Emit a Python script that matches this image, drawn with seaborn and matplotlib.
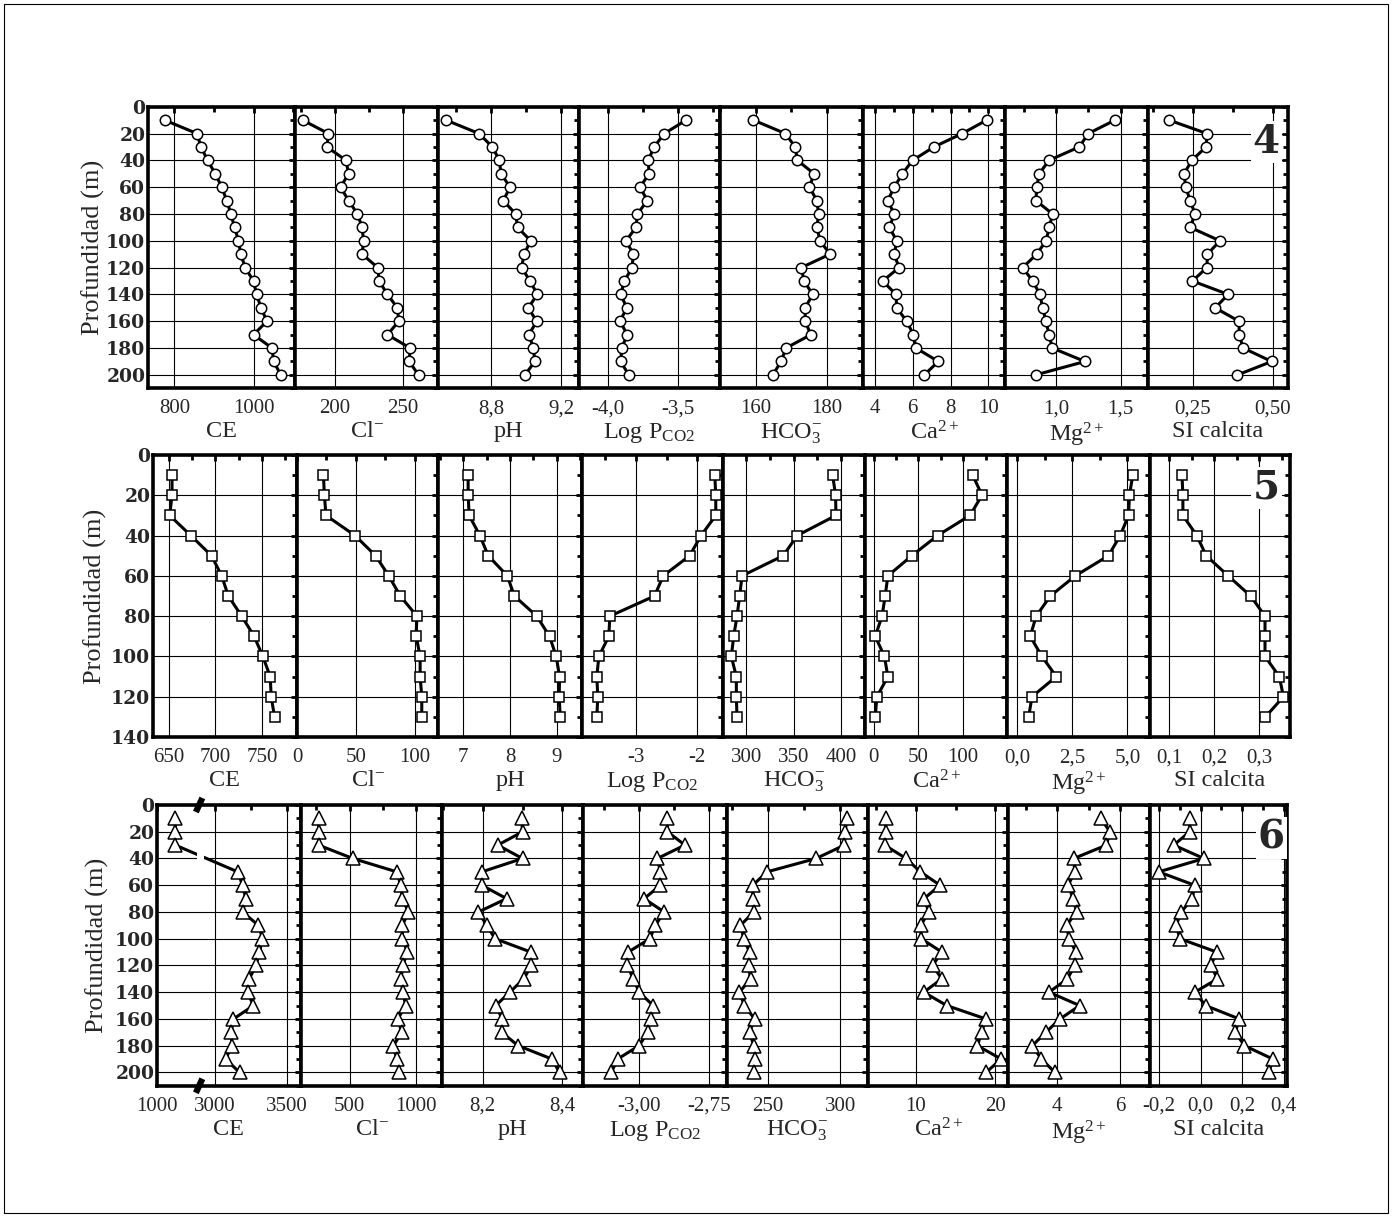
import numpy as np
import seaborn as sns
import matplotlib.pyplot as plt
from matplotlib.ticker import MultipleLocator
from matplotlib.patches import Rectangle

# ---- data: sampling depths (m) ----
depth_4 = [10, 20, 30, 40, 50, 60, 70, 80, 90, 100, 110, 120, 130, 140, 150, 160, 170, 180, 190, 200]
depth_5 = [10, 20, 30, 40, 50, 60, 70, 80, 90, 100, 110, 120, 130]
depth_6 = [10, 20, 30, 40, 50, 60, 70, 80, 90, 100, 110, 120, 130, 140, 150, 160, 170, 180, 190, 200]
depth_6_ce = [10, 20, 30, 50, 60, 70, 80, 90, 100, 110, 120, 130, 140, 150, 160, 170, 180, 190, 200]

# ---- profile 4 ----
ce_4 = [775, 857, 867, 884, 903, 920, 932, 943, 952, 962, 968, 979, 1000, 1008, 1019, 1034, 1000, 1047, 1051, 1069]
cl_4 = [176, 195, 194, 208, 210, 204, 210, 216.5, 220, 221, 220, 231.5, 232.5, 238.7, 246, 247, 238.7, 255.4, 254.7, 261.6]
ph_4 = [8.543, 8.731, 8.808, 8.848, 8.857, 8.909, 8.870, 8.941, 8.952, 9.027, 8.989, 8.975, 9.023, 9.065, 9.013, 9.061, 9.017, 9.042, 9.051, 8.994]
pco2_4 = [-3.440, -3.595, -3.669, -3.710, -3.705, -3.769, -3.717, -3.788, -3.798, -3.869, -3.817, -3.826, -3.881, -3.907, -3.864, -3.912, -3.860, -3.900, -3.907, -3.850]
hco3_4 = [159.3, 168.3, 171.1, 171.7, 176.4, 175.1, 177.2, 177.7, 177.2, 178.1, 180.9, 172.8, 173.6, 176.0, 173.9, 173.9, 175.5, 168.5, 167.1, 164.8]
ca_4 = [9.91, 8.62, 7.12, 5.99, 5.45, 5.02, 4.67, 5.02, 4.76, 5.15, 5.02, 5.27, 4.41, 5.11, 5.15, 5.68, 6.03, 6.17, 7.35, 6.61]
mg_4 = [1.456, 1.250, 1.180, 0.946, 0.871, 0.851, 0.845, 0.974, 0.948, 0.923, 0.851, 0.742, 0.820, 0.876, 0.897, 0.923, 0.946, 0.972, 1.224, 0.843]
si_4 = [0.176, 0.294, 0.292, 0.247, 0.223, 0.228, 0.242, 0.257, 0.242, 0.335, 0.296, 0.294, 0.249, 0.361, 0.320, 0.395, 0.395, 0.408, 0.497, 0.390]

# ---- profile 5 ----
ce_5 = [653.2, 653.2, 650.7, 673.5, 695.8, 706.7, 713.9, 728.3, 741.7, 751.1, 759.0, 760.1, 763.7]
cl_5 = [22.5, 23.3, 24.7, 49.4, 66.9, 78.1, 87.9, 102, 101.4, 104.8, 104.8, 106.2, 106.2]
ph_5 = [7.107, 7.107, 7.129, 7.357, 7.536, 7.943, 8.093, 8.571, 8.843, 8.986, 9.057, 9.050, 9.071]
pco2_5 = [-1.713, -1.697, -1.697, -1.938, -2.124, -2.556, -2.697, -3.427, -3.444, -3.607, -3.640, -3.624, -3.640]
hco3_5 = [391.2, 394.3, 394.7, 353.7, 338.9, 295.4, 292.9, 290.1, 286.6, 284.1, 289.4, 289.4, 290.1]
ca_5 = [110.7, 121.0, 107.6, 71.4, 42.7, 16.0, 13.0, 9.5, 1.9, 12.2, 16.0, 3.8, 1.9]
mg_5 = [5.24, 5.09, 5.05, 4.67, 4.14, 2.64, 1.51, 0.87, 0.60, 1.13, 1.78, 0.68, 0.53]
si_5 = [0.128, 0.130, 0.130, 0.161, 0.182, 0.231, 0.281, 0.313, 0.313, 0.313, 0.345, 0.354, 0.314]

# ---- profile 6 ----
ce_6 = [1218, 1218, 1218, 3158, 3191, 3214, 3191, 3302, 3330, 3309, 3286, 3237, 3226, 3267, 3128, 3112, 3116, 3074, 3170]
cl_6 = [267.5, 267.5, 267.5, 525, 855, 885, 897.5, 942.5, 897.5, 897.5, 935, 900, 887.5, 900, 922.5, 862.5, 892.5, 830, 855, 875]
ph_6 = [8.2975, 8.300, 8.2375, 8.300, 8.1975, 8.1975, 8.260, 8.189, 8.210, 8.231, 8.321, 8.3225, 8.303, 8.268, 8.2325, 8.249, 8.2475, 8.289, 8.374, 8.393]
pco2_6 = [-2.899, -2.899, -2.837, -2.935, -2.924, -2.924, -2.982, -2.911, -2.942, -2.962, -3.039, -3.042, -3.021, -3.000, -2.950, -2.958, -2.970, -3.000, -3.077, -3.099]
hco3_6 = [304.7, 303.5, 303.0, 283.3, 249.3, 239.5, 239.5, 240.2, 230.9, 233.3, 237.2, 236.5, 237.9, 230.2, 233.7, 240.7, 237.2, 240.2, 241.2, 240.2]
ca_6 = [6.26, 6.26, 6.13, 8.81, 10.60, 13.06, 11.06, 11.66, 10.64, 10.72, 13.28, 12.13, 13.28, 11.02, 13.91, 18.81, 18.26, 17.74, 20.72, 18.81]
mg_6 = [5.39, 5.68, 5.57, 4.53, 4.56, 4.35, 4.51, 4.62, 4.30, 4.38, 4.60, 4.56, 4.33, 3.74, 4.72, 4.09, 3.64, 3.21, 3.50, 3.93]
si_6 = [-0.052, -0.053, -0.130, 0.016, -0.202, -0.029, -0.040, -0.094, -0.118, -0.100, 0.078, 0.049, 0.081, -0.028, 0.024, 0.186, 0.167, 0.211, 0.348, 0.329]

xlabels = ['CE', r'Cl$^{-}$', 'pH', r'Log P$_{\mathrm{CO2}}$', r'HCO$_{3}^{-}$',
           r'Ca$^{2+}$', r'Mg$^{2+}$', 'SI calcita']

# broken CE axis for profile 6 (1000 | 2900-3600)
brk_v = [0, 1500, 2891, 5000]
brk_u = [-252, 126, 127, 127 + (5000 - 2891) * 0.43]


def brk_fwd(v):
    return np.interp(v, brk_v, brk_u)


def brk_inv(u):
    return np.interp(u, brk_u, brk_v)


# panel: (depths, values, xlim, ticks, ticklabels, minor step)
rows = [
    dict(tag='4', ymax=210, top=106.7, bottom=388.3, marker='o', ms=7.5, ylab_x=93,
         tag_xy=(0.94, 0.875), yticks=[0, 20, 40, 60, 80, 100, 120, 140, 160, 180, 200],
         edges=[148, 295, 438, 579, 720, 863, 1005, 1148, 1288],
         panels=[
             (depth_4, ce_4, (733, 1105), [800, 1000], ['800', '1000'], 100),
             (depth_4, cl_4, (170.4, 276), [200, 250], ['200', '250'], 25),
             (depth_4, ph_4, (8.497, 9.303), [8.8, 9.2], ['8,8', '9,2'], 0.2),
             (depth_4, pco2_4, (-4.205, -3.198), [-4.0, -3.5], ['-4,0', '-3,5'], 0.25),
             (depth_4, hco3_4, (149.9, 190.2), [160, 180], ['160', '180'], 10),
             (depth_4, ca_4, (3.365, 10.88), [4, 6, 8, 10], ['4', '6', '8', '10'], 1),
             (depth_4, mg_4, (0.606, 1.711), [1.0, 1.5], ['1,0', '1,5'], 0.25),
             (depth_4, si_4, (0.110, 0.548), [0.25, 0.50], ['0,25', '0,50'], 0.125),
         ]),
    dict(tag='5', ymax=140, top=455, bottom=737, marker='s', ms=6.8, ylab_x=95,
         tag_xy=(0.93, 0.883), yticks=[0, 20, 40, 60, 80, 100, 120, 140],
         edges=[153, 297, 438, 582, 723, 865, 1007, 1150, 1290],
         panels=[
             (depth_5, ce_5, (632.7, 787.9), [650, 700, 750], ['650', '700', '750'], 25),
             (depth_5, cl_5, (0, 120), [0, 50, 100], ['0', '50', '100'], 25),
             (depth_5, ph_5, (6.464, 9.536), [7, 8, 9], ['7', '8', '9'], 0.5),
             (depth_5, pco2_5, (-3.882, -1.579), [-3, -2], ['-3', '-2'], 0.5),
             (depth_5, hco3_5, (275.3, 425.4), [300, 350, 400], ['300', '350', '400'], 25),
             (depth_5, ca_5, (-9.5, 148.9), [0, 50, 100], ['0', '50', '100'], 25),
             (depth_5, mg_5, (-0.45, 6.02), [0, 2.5, 5.0], ['0,0', '2,5', '5,0'], 1.25),
             (depth_5, si_5, (0.0567, 0.3687), [0.1, 0.2, 0.3], ['0,1', '0,2', '0,3'], 0.05),
         ]),
    dict(tag='6', ymax=210, top=805, bottom=1085.8, marker='^', ms=10, ylab_x=97,
         tag_xy=(0.985, 0.883), yticks=[0, 20, 40, 60, 80, 100, 120, 140, 160, 180, 200],
         edges=[157, 301, 442, 583, 727, 868, 1008, 1150, 1287],
         panels=[
             (depth_6_ce, ce_6, (1000, 3598), [1000, 3000, 3500], ['1000', '3000', '3500'], None),
             (depth_6, cl_6, (135, 1195), [500, 1000], ['500', '1000'], 250),
             (depth_6, ph_6, (8.0975, 8.452), [8.2, 8.4], ['8,2', '8,4'], 0.1),
             (depth_6, pco2_6, (-3.2, -2.687), [-3.0, -2.75], ['-3,00', '-2,75'], 0.125),
             (depth_6, hco3_6, (221.6, 319.3), [250, 300], ['250', '300'], 25),
             (depth_6, ca_6, (4.04, 21.57), [10, 20], ['10', '20'], 5),
             (depth_6, mg_6, (2.436, 6.957), [4, 6], ['4', '6'], 1),
             (depth_6, si_6, (-0.244, 0.416), [-0.2, 0.0, 0.2, 0.4], ['-0,2', '0,0', '0,2', '0,4'], 0.1),
         ]),
]

sns.set_style('white')
plt.rcParams['font.family'] = 'Liberation Serif'
plt.rcParams['mathtext.fontset'] = 'custom'
plt.rcParams['mathtext.rm'] = 'Liberation Serif'
plt.rcParams['mathtext.it'] = 'Liberation Serif:italic'
plt.rcParams['mathtext.bf'] = 'Liberation Serif:bold'
plt.rcParams['mathtext.default'] = 'regular'

W, H = 1392, 1217
fig = plt.figure(figsize=(W / 100, H / 100), dpi=100)
fig.patch.set_facecolor('white')

for row in rows:
    edges = row['edges']
    top, bottom = row['top'], row['bottom']
    for i, (dep, vals, xlim, ticks, tlabels, minor) in enumerate(row['panels']):
        ax = fig.add_axes([edges[i] / W, 1 - bottom / H, (edges[i + 1] - edges[i]) / W, (bottom - top) / H])
        sns.lineplot(x=vals, y=dep, ax=ax, sort=False, estimator=None, color='black',
                     linewidth=2.2, marker=row['marker'], markersize=row['ms'],
                     markerfacecolor='white', markeredgecolor='black', markeredgewidth=1.1)
        if minor is None:
            # axis break between ~1500 and ~2900
            ax.set_xscale('function', functions=(brk_fwd, brk_inv))
            ax.set_xticks([3250], minor=True)
            ax.axvspan(1470, 2920, ymin=0.80, ymax=0.845, color='white', lw=0, zorder=4)
            for yb in (0, 1):
                ax.plot([0.27, 0.315], [yb - 0.025, yb + 0.025], transform=ax.transAxes,
                        color='black', lw=4.5, clip_on=False, solid_capstyle='butt', zorder=6)
        else:
            ax.xaxis.set_minor_locator(MultipleLocator(minor))
        ax.set_xlim(*xlim)
        ax.set_ylim(row['ymax'], 0)
        ax.set_xticks(ticks, tlabels, fontsize=15)
        ax.yaxis.set_minor_locator(MultipleLocator(10))
        if i == 0:
            ax.set_yticks(row['yticks'], [str(v) for v in row['yticks']],
                          fontfamily='DejaVu Serif', fontweight='bold', fontsize=13.5)
        else:
            ax.set_yticks(row['yticks'])
            ax.tick_params(axis='y', labelleft=False)
        ax.set_axisbelow(True)
        ax.grid(True, which='major', color='black', linewidth=0.8)
        ax.tick_params(which='both', direction='in', top=True, right=True, color='black', width=2)
        ax.tick_params(which='major', length=4)
        ax.tick_params(which='minor', length=3.5)
        ax.tick_params(axis='x', pad=8)
        ax.tick_params(axis='y', pad=2)
        for s in ax.spines.values():
            s.set_linewidth(2.6)
            s.set_color('black')
        ax.set_xlabel(xlabels[i], fontsize=17.5, labelpad=2)
        ax.set_ylabel('')
        if i == 7:
            ax.text(row['tag_xy'][0], row['tag_xy'][1], row['tag'], transform=ax.transAxes,
                    ha='right', va='center', fontsize=28, fontweight='bold', family='DejaVu Serif',
                    zorder=5, bbox=dict(facecolor='white', edgecolor='none', pad=1.5))
    fig.text(row['ylab_x'] / W, 1 - (top + bottom) / 2 / H, 'Profundidad (m)', rotation=90,
             ha='center', va='center', fontsize=19)

fig.patches.append(Rectangle((4 / W, 4 / H), (W - 8) / W, (H - 8) / H, transform=fig.transFigure,
                             fill=False, edgecolor='black', linewidth=0.8))

fig.savefig('out.png', dpi=100)
